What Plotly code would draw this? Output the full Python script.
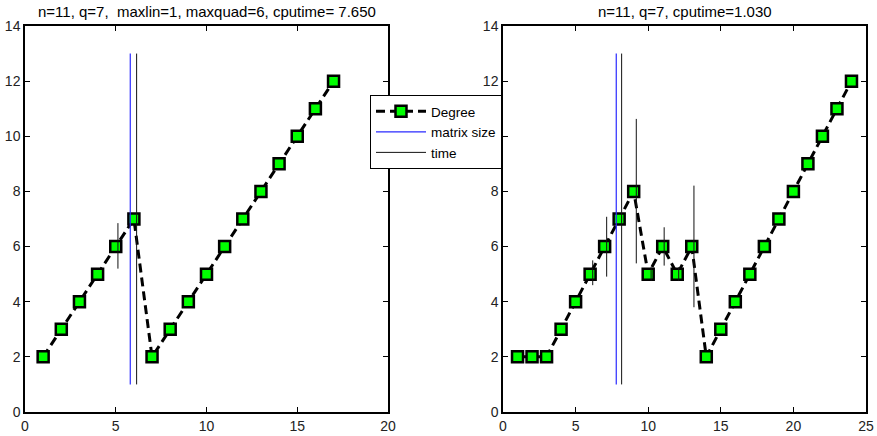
import plotly.graph_objects as go

# ---------------- data ----------------
left_x = list(range(1, 18))
left_degree = [2, 3, 4, 5, 6, 7, 2, 3, 4, 5, 6, 7, 8, 9, 10, 11, 12]
right_x = list(range(1, 25))
right_degree = [2, 2, 2, 3, 4, 5, 6, 7, 8, 5, 6, 5, 6, 2, 3, 4, 5, 6, 7, 8, 9, 10, 11, 12]

# matrix size vertical line: x, ymin, ymax
left_matrix = [5.8, 1, 13]
right_matrix = [7.8, 1, 13]

# time vertical segments: x, ymin, ymax
left_time = [[6.15, 1, 13], [5.12, 5.2, 6.85]]
right_time = [[8.17, 1, 13], [6.18, 4.6, 5.5], [7.14, 4.91, 7.08], [9.18, 5.39, 10.63],
              [10.2, 4.75, 5.25], [11.1, 5.31, 6.7], [12.1, 4.75, 5.25], [13.15, 3.8, 8.21]]

left_title = "n=11, q=7,  maxlin=1, maxquad=6, cputime= 7.650"
right_title = "n=11, q=7, cputime=1.030"

x_ticks_left = [0, 5, 10, 15, 20]
x_ticks_right = [0, 5, 10, 15, 20, 25]
y_ticks = [0, 2, 4, 6, 8, 10, 12, 14]

# ---------------- figure ----------------
W, H = 877, 436
FONT = "Liberation Sans, Arial"
fig = go.Figure()


def segs(lst):
    xs, ys = [], []
    for x, a, b in lst:
        xs += [x, x, None]
        ys += [a, b, None]
    return xs, ys


def add_panel(xv, deg, mat, tim, xa, ya, show):
    fig.add_trace(go.Scatter(
        x=xv, y=deg, mode="lines+markers", name="Degree", showlegend=show,
        legendrank=1,
        line=dict(color="black", width=3, dash="9px,5px"),
        marker=dict(symbol="square", size=11, color="#00ff00",
                    line=dict(color="black", width=2.5)),
        xaxis=xa, yaxis=ya))
    mx, my = segs([mat])
    fig.add_trace(go.Scatter(
        x=mx, y=my, mode="lines", name="matrix size", showlegend=show,
        legendrank=2, line=dict(color="#2a2aff", width=1.2),
        xaxis=xa, yaxis=ya))
    tx, ty = segs(tim)
    fig.add_trace(go.Scatter(
        x=tx, y=ty, mode="lines", name="time", showlegend=show,
        legendrank=3, line=dict(color="#111111", width=1),
        xaxis=xa, yaxis=ya))


add_panel(left_x, left_degree, left_matrix, left_time, "x", "y", True)
add_panel(right_x, right_degree, right_matrix, right_time, "x2", "y2", False)

ydom = [1 - 412 / H, 1 - 26 / H]
axis_common = dict(showgrid=False, zeroline=False, showline=True, linecolor="black",
                   linewidth=1.5, mirror="ticks", ticks="inside", ticklen=5,
                   tickcolor="black", tickwidth=1,
                   tickfont=dict(family=FONT, size=14, color="#222"),
                   automargin=False)

fig.update_layout(
    width=W, height=H,
    margin=dict(l=0, r=0, t=0, b=0),
    paper_bgcolor="white", plot_bgcolor="white",
    xaxis=dict(domain=[25 / W, 388 / W], range=[0, 20], tickvals=x_ticks_left,
               anchor="y", **axis_common),
    yaxis=dict(domain=ydom, range=[0, 14], tickvals=y_ticks, anchor="x", **axis_common),
    xaxis2=dict(domain=[503 / W, 866 / W], range=[0, 25], tickvals=x_ticks_right,
                anchor="y2", **axis_common),
    yaxis2=dict(domain=ydom, range=[0, 14], tickvals=y_ticks, anchor="x2", **axis_common),
    legend=dict(x=370 / W, y=1 - 95 / H, xanchor="left", yanchor="top",
                bgcolor="white", bordercolor="black", borderwidth=1,
                font=dict(family=FONT, size=13.5, color="black"),
                itemwidth=50, tracegroupgap=0),
    showlegend=True,
    annotations=[
        dict(text=left_title, x=(25 + 388) / 2 / W, y=1 - 11 / H, xref="paper", yref="paper",
             showarrow=False, xanchor="center", yanchor="middle",
             font=dict(family=FONT, size=15, color="black")),
        dict(text=right_title, x=(503 + 866) / 2 / W, y=1 - 11 / H, xref="paper", yref="paper",
             showarrow=False, xanchor="center", yanchor="middle",
             font=dict(family=FONT, size=15, color="black")),
    ],
)

fig.write_html("out.html", config={"displayModeBar": False},
               post_script="document.body.style.margin='0';document.body.style.overflow='hidden';")
